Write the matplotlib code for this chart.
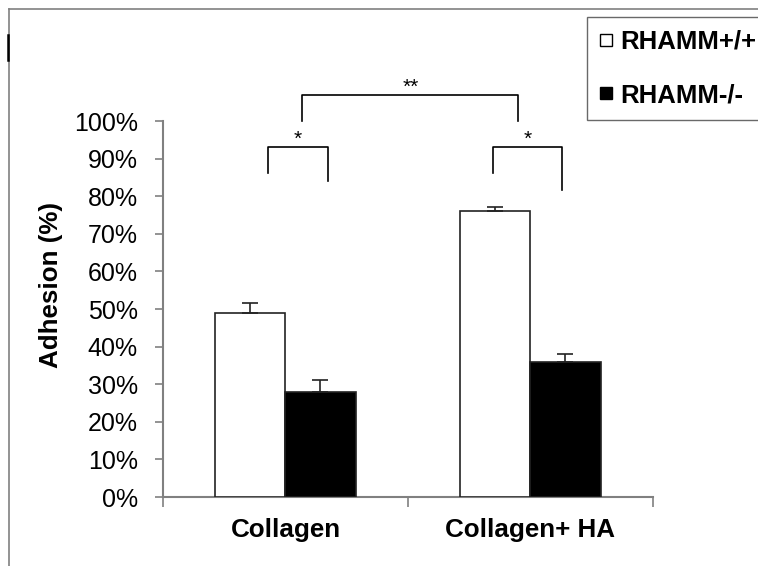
import matplotlib.pyplot as plt
from matplotlib.lines import Line2D

plt.rcParams['font.family'] = ['Liberation Sans', 'DejaVu Sans']

# data
categories = ['Collagen', 'Collagen+ HA']
wt_mean = [49, 76]
wt_err = [2.7, 1.0]
ko_mean = [28, 36]
ko_err = [3.0, 2.0]
series_names = ['RHAMM+/+', 'RHAMM-/-']

# significance brackets: x left, x right, top, left leg end, right leg end, label
brackets = [
    (-0.073, 0.175, 93.2, 86.2, 84.1, '*'),
    (0.846, 1.130, 93.2, 86.2, 81.6, '*'),
    (0.069, 0.950, 106.9, 100.1, 100.1, '**'),
]

fig = plt.figure(figsize=(7.58, 5.66), dpi=100)
ax = fig.add_axes([0.215, 0.1219, 0.6464, 0.6643])

x = range(len(categories))
w = 0.286
axis_grey = '#808080'

ax.bar([i - w / 2 for i in x], wt_mean, width=w, color='white', edgecolor='#222222',
       linewidth=1.2, yerr=[[0] * len(wt_err), wt_err], capsize=6,
       error_kw={'ecolor': '#222222', 'elinewidth': 1.2, 'capthick': 1.2}, zorder=3)
ax.bar([i + w / 2 for i in x], ko_mean, width=w, color='black', edgecolor='#222222',
       linewidth=1.2, yerr=[[0] * len(ko_err), ko_err], capsize=6,
       error_kw={'ecolor': '#222222', 'elinewidth': 1.2, 'capthick': 1.2}, zorder=3)

for x1, x2, top, yl, yr, lab in brackets:
    ax.plot([x1, x1, x2, x2], [yl, top, top, yr], color='black', linewidth=1.2,
            clip_on=False)
    ax.text((x1 + x2) / 2, top - 0.5, lab, ha='center', va='bottom', fontsize=15)

ax.set_xlim(-0.5, 1.5)
ax.set_ylim(0, 100)
ax.set_yticks(range(0, 101, 10))
ax.set_yticklabels([f'{v}%' for v in range(0, 101, 10)])
ax.set_xticks(list(x))
ax.set_xticklabels(categories, fontweight='bold')
ax.set_xticks([-0.5, 0.5, 1.5], minor=True)
ax.tick_params(axis='x', which='major', length=0, pad=15, labelsize=18.7)
ax.tick_params(axis='x', which='minor', length=7, direction='out', color=axis_grey, width=1.2)
ax.tick_params(axis='y', length=6, direction='out', color=axis_grey, width=1.2,
               pad=12, labelsize=18)
ax.set_ylabel('Adhesion (%)', fontsize=18.7, fontweight='bold')
ax.yaxis.set_label_coords(-0.205, 0.564)

for s in ['top', 'right']:
    ax.spines[s].set_visible(False)
for s in ['left', 'bottom']:
    ax.spines[s].set_color(axis_grey)
    ax.spines[s].set_linewidth(1.5)

# legend
handles = [Line2D([], [], linestyle='none', marker='s', markersize=8,
                  markerfacecolor=c, markeredgecolor='black', markeredgewidth=1)
           for c in ['white', 'black']]
leg = fig.legend(handles, series_names, loc='upper left',
                 bbox_to_anchor=(587 / 758, 1 - 17 / 566),
                 prop={'size': 18.5, 'weight': 'bold'}, frameon=True, fancybox=False,
                 handlelength=0.5, handletextpad=0.3, labelspacing=1.15,
                 borderpad=0.5, borderaxespad=0, edgecolor='#444444')
leg.get_frame().set_linewidth(1.0)

# outer frame lines of the original panel
fig.add_artist(Line2D([9 / 758, 1], [1 - 9 / 566, 1 - 9 / 566], color=axis_grey, linewidth=1.2))
fig.add_artist(Line2D([9 / 758, 9 / 758], [0, 1 - 9 / 566], color=axis_grey, linewidth=1.2))
fig.add_artist(Line2D([8 / 758, 8 / 758], [1 - 35 / 566, 1 - 60 / 566], color='black', linewidth=1.8))

fig.savefig('out.png', dpi=100)
